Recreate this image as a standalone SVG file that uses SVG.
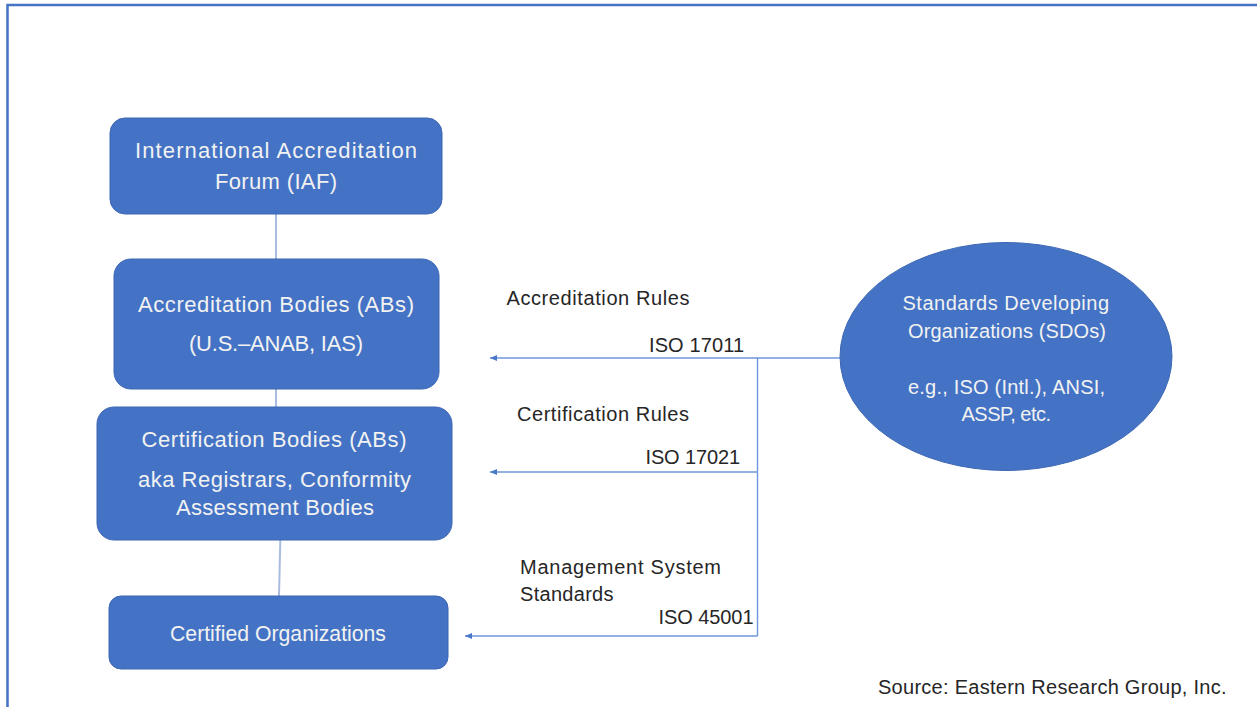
<svg xmlns="http://www.w3.org/2000/svg" width="1257" height="707" viewBox="0 0 1257 707">
  <defs>
    <marker id="arrow" viewBox="0 0 7 6" refX="7" refY="3" markerWidth="7" markerHeight="6" markerUnits="userSpaceOnUse" orient="auto">
      <path d="M0,0 L7,3 L0,6 Z" fill="#4a78c8"/>
    </marker>
    <style>
      .node { fill: #4472c4; stroke: #3c67b4; stroke-width: 1; }
      .ntext { font-family: "Liberation Sans", Arial, sans-serif; font-size: 22px; fill: #f2f2f2; }
      .etext { font-family: "Liberation Sans", Arial, sans-serif; font-size: 20px; fill: #f2f2f2; }
      .label { font-family: "Liberation Sans", Arial, sans-serif; font-size: 20px; fill: #262626; }
      .link { stroke: #a9bce0; stroke-width: 2; fill: none; }
      .flow { stroke: #6f96dc; stroke-width: 1.4; fill: none; }
      .frame { stroke: #4472c4; stroke-width: 2.5; fill: none; }
    </style>
  </defs>

  <rect width="1257" height="707" fill="#ffffff"/>

  <!-- outer frame: top and left edges -->
  <path class="frame" d="M7.5,707 V5 H1257"/>

  <!-- connectors -->
  <g id="connectors">
    <line class="link" x1="276" y1="214" x2="276" y2="259"/>
    <line class="link" x1="276" y1="389" x2="276" y2="407"/>
    <line class="link" x1="280.3" y1="540" x2="279" y2="596"/>
    <!-- SDO feed -->
    <polyline class="flow" points="840,358 757.5,358 757.5,636"/>
    <line class="flow" x1="757.5" y1="358" x2="490" y2="358" marker-end="url(#arrow)"/>
    <line class="flow" x1="757.5" y1="472" x2="490" y2="472" marker-end="url(#arrow)"/>
    <line class="flow" x1="757.5" y1="636" x2="465" y2="636" marker-end="url(#arrow)"/>
  </g>

  <g id="iaf">
    <rect class="node" x="110" y="118" width="332" height="96" rx="15"/>
    <text class="ntext" x="135" y="158" textLength="282" lengthAdjust="spacing">International Accreditation</text>
    <text class="ntext" x="215" y="189" textLength="122" lengthAdjust="spacing">Forum (IAF)</text>
  </g>

  <g id="accreditation-bodies">
    <rect class="node" x="114" y="259" width="325" height="130" rx="17"/>
    <text class="ntext" x="138" y="312" textLength="276" lengthAdjust="spacing">Accreditation Bodies (ABs)</text>
    <text class="ntext" x="189" y="350.5" textLength="174" lengthAdjust="spacing">(U.S.–ANAB, IAS)</text>
  </g>

  <g id="certification-bodies">
    <rect class="node" x="97" y="407" width="355" height="133" rx="17"/>
    <text class="ntext" x="141.5" y="447" textLength="265" lengthAdjust="spacing">Certification Bodies (ABs)</text>
    <text class="ntext" x="138" y="486.5" textLength="273" lengthAdjust="spacing">aka Registrars, Conformity</text>
    <text class="ntext" x="176" y="515" textLength="198" lengthAdjust="spacing">Assessment Bodies</text>
  </g>

  <g id="certified-organizations">
    <rect class="node" x="109" y="596" width="339" height="73" rx="12"/>
    <text class="ntext" x="170" y="640.5" textLength="216" lengthAdjust="spacingAndGlyphs">Certified Organizations</text>
  </g>

  <g id="sdo">
    <ellipse class="node" cx="1006" cy="356.5" rx="166" ry="114"/>
    <text class="etext" x="902.5" y="310" textLength="206.5" lengthAdjust="spacing">Standards Developing</text>
    <text class="etext" x="908" y="337.5" textLength="198" lengthAdjust="spacing">Organizations (SDOs)</text>
    <text class="etext" x="908" y="393.5" textLength="197" lengthAdjust="spacing">e.g., ISO (Intl.), ANSI,</text>
    <text class="etext" x="961.5" y="421" textLength="89.5" lengthAdjust="spacing">ASSP, etc.</text>
  </g>

  <g id="labels">
    <text class="label" x="506.5" y="305" textLength="183" lengthAdjust="spacing">Accreditation Rules</text>
    <text class="label" x="649" y="352" textLength="95" lengthAdjust="spacing">ISO 17011</text>
    <text class="label" x="517" y="421" textLength="172" lengthAdjust="spacing">Certification Rules</text>
    <text class="label" x="645.5" y="463.5" textLength="94.5" lengthAdjust="spacing">ISO 17021</text>
    <text class="label" x="520" y="573.5" textLength="201" lengthAdjust="spacing">Management System</text>
    <text class="label" x="520" y="601" textLength="93.5" lengthAdjust="spacing">Standards</text>
    <text class="label" x="658.5" y="623.5" textLength="95" lengthAdjust="spacing">ISO 45001</text>
    <text class="label" x="878" y="693.5" textLength="348.5" lengthAdjust="spacing">Source: Eastern Research Group, Inc.</text>
  </g>
</svg>
